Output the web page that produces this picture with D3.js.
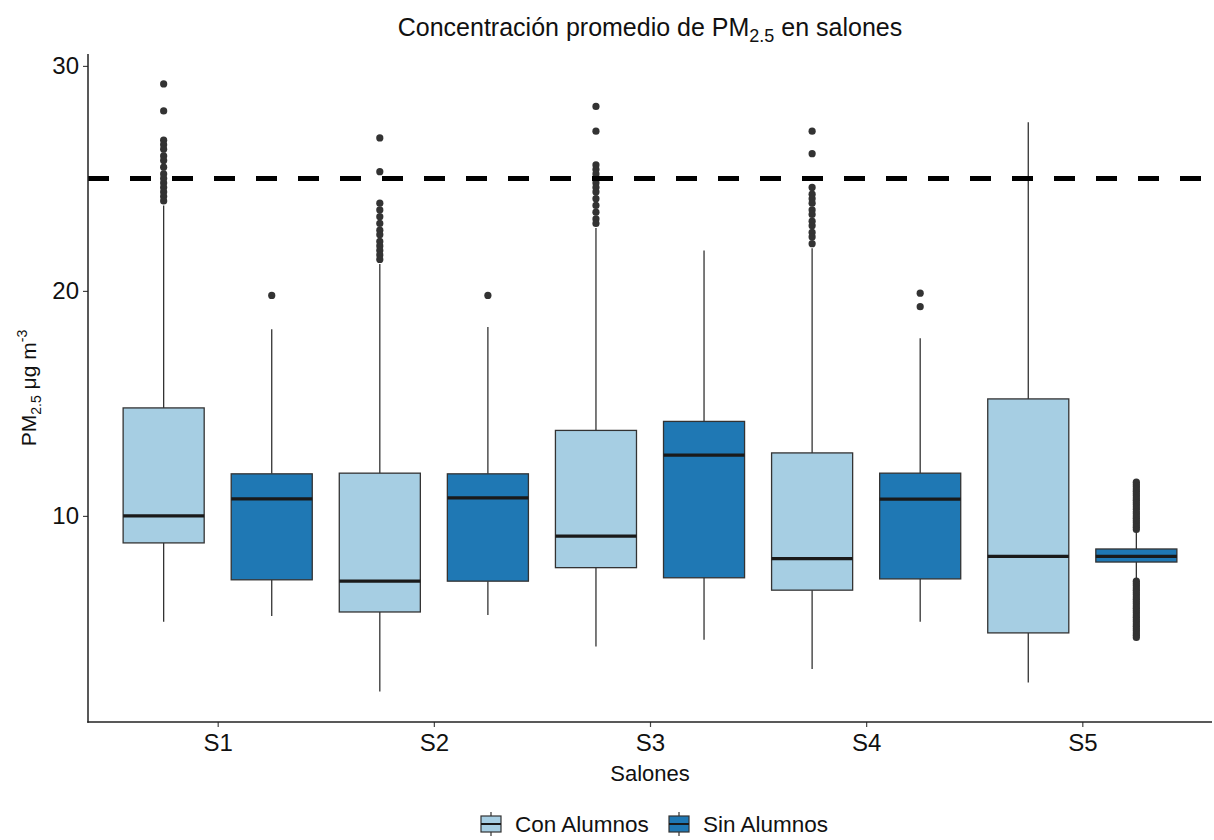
<!DOCTYPE html>
<html><head><meta charset="utf-8">
<script src="https://cdn.jsdelivr.net/npm/d3@7"></script>
<style>body{margin:0;background:#fff;} svg{display:block;font-family:"Liberation Sans",Arial,sans-serif;}</style>
</head><body><svg id="c" width="1214" height="840"></svg>
<script>
const salones = ["S1","S2","S3","S4","S5"];
const grupos = ["Con Alumnos","Sin Alumnos"];
const colores = ["#a6cee3","#1f78b4"];
const yTicks = [10,20,30];
const limite = 25;

// Con Alumnos
const conLo  = [5.3, 2.2, 4.2, 3.2, 2.6];
const conQ1  = [8.8, 5.73, 7.7, 6.7, 4.8];
const conMed = [10.0, 7.1, 9.1, 8.1, 8.2];
const conQ3  = [14.8, 11.9, 13.8, 12.8, 15.2];
const conHi  = [23.8, 21.2, 22.8, 21.9, 27.5];
const conOut = [
  [29.2,28.0,26.7,26.5,26.3,26.0,25.8,25.5,25.2,25.0,24.8,24.6,24.4,24.2,24.0],
  [26.8,25.3,23.9,23.6,23.3,23.0,22.7,22.5,22.2,22.0,21.8,21.6,21.4],
  [28.2,27.1,25.6,25.4,25.2,25.0,24.8,24.6,24.4,24.1,23.8,23.5,23.2,23.0],
  [27.1,26.1,24.6,24.3,24.1,23.9,23.6,23.4,23.1,22.9,22.6,22.4,22.1],
  []
];
// Sin Alumnos
const sinLo  = [5.55, 5.6, 4.5, 5.3, 7.2];
const sinQ1  = [7.16, 7.1, 7.25, 7.2, 7.95];
const sinMed = [10.76, 10.8, 12.7, 10.75, 8.2];
const sinQ3  = [11.87, 11.87, 14.2, 11.9, 8.53];
const sinHi  = [18.3, 18.4, 21.8, 17.9, 9.3];
const sinOut = [
  [19.8],
  [19.8],
  [],
  [19.9,19.3],
  [9.4,9.5,9.6,9.7,9.8,9.9,10.0,10.1,10.2,10.3,10.4,10.5,10.6,10.7,10.8,10.9,11.0,11.1,11.2,11.3,11.4,11.5,
   7.1,7.0,6.9,6.8,6.7,6.6,6.5,6.4,6.3,6.2,6.1,6.0,5.9,5.8,5.7,5.6,5.5,5.4,5.3,5.2,5.1,5.0,4.9,4.8,4.7,4.6]
];

const svg = d3.select("#c");
const L = 88, R = 1212, T = 54, B = 722;
const x = d3.scalePoint().domain(salones).range([L, R]).padding(0.6);
const step = x.step();
const y = d3.scaleLinear().domain([0.84, 30.53]).range([B, T]);
const off = d3.scalePoint().domain(grupos).range([-0.25*step, 0.25*step]);
const bw = 0.375*step;

const series = [
  {g: grupos[0], c: colores[0], lo: conLo, q1: conQ1, med: conMed, q3: conQ3, hi: conHi, out: conOut},
  {g: grupos[1], c: colores[1], lo: sinLo, q1: sinQ1, med: sinMed, q3: sinQ3, hi: sinHi, out: sinOut}
];

const plot = svg.append("g");
series.forEach(s => {
  salones.forEach((sal, i) => {
    const cx = x(sal) + off(s.g);
    const g = plot.append("g");
    g.append("line").attr("x1", cx).attr("x2", cx).attr("y1", y(s.hi[i])).attr("y2", y(s.q3[i]))
      .attr("stroke", "#333").attr("stroke-width", 1.3);
    g.append("line").attr("x1", cx).attr("x2", cx).attr("y1", y(s.q1[i])).attr("y2", y(s.lo[i]))
      .attr("stroke", "#333").attr("stroke-width", 1.3);
    g.append("rect").attr("x", cx - bw/2).attr("width", bw)
      .attr("y", y(s.q3[i])).attr("height", y(s.q1[i]) - y(s.q3[i]))
      .attr("fill", s.c).attr("stroke", "#333").attr("stroke-width", 1.3);
    g.append("line").attr("x1", cx - bw/2).attr("x2", cx + bw/2).attr("y1", y(s.med[i])).attr("y2", y(s.med[i]))
      .attr("stroke", "#1a1a1a").attr("stroke-width", 3.2);
    g.selectAll("circle").data(s.out[i]).enter().append("circle")
      .attr("cx", cx).attr("cy", d => y(d)).attr("r", 3.6).attr("fill", "#333");
  });
});

// reference line
svg.append("line").attr("x1", L).attr("x2", R).attr("y1", y(limite)).attr("y2", y(limite))
  .attr("stroke", "#000").attr("stroke-width", 5).attr("stroke-dasharray", "21,21");

// axes
const ya = svg.append("g").attr("transform", `translate(${L},0)`)
  .call(d3.axisLeft(y).tickValues(yTicks).tickSize(5).tickPadding(4));
ya.select(".domain").remove();
ya.selectAll(".tick line").attr("stroke", "#444").attr("stroke-width", 1.2);
ya.selectAll(".tick text").attr("font-size", 24).attr("fill", "#111").attr("font-family", "Liberation Sans, Arial, sans-serif");

const xa = svg.append("g").attr("transform", `translate(0,${B})`)
  .call(d3.axisBottom(x).tickSize(5).tickPadding(7));
xa.select(".domain").remove();
xa.selectAll(".tick line").attr("stroke", "#444").attr("stroke-width", 1.2);
xa.selectAll(".tick text").attr("font-size", 24).attr("fill", "#111").attr("font-family", "Liberation Sans, Arial, sans-serif");

svg.append("line").attr("x1", L).attr("x2", L).attr("y1", T).attr("y2", B + 0.7).attr("stroke", "#222").attr("stroke-width", 1.5);
svg.append("line").attr("x1", L - 0.7).attr("x2", R).attr("y1", B).attr("y2", B).attr("stroke", "#222").attr("stroke-width", 1.5);

// title
const t = svg.append("text").attr("x", (L + R)/2).attr("y", 36).attr("text-anchor", "middle")
  .attr("font-size", 25).attr("fill", "#111");
t.append("tspan").text("Concentración promedio de PM");
t.append("tspan").text("2.5").attr("font-size", 18).attr("dy", 6);
t.append("tspan").text(" en salones").attr("dy", -6);

// x title
svg.append("text").attr("x", (L + R)/2).attr("y", 781).attr("text-anchor", "middle")
  .attr("font-size", 22).attr("fill", "#111").text("Salones");

// y title
const yt = svg.append("text").attr("transform", `translate(36,${(T + B)/2}) rotate(-90)`)
  .attr("text-anchor", "middle").attr("font-size", 21).attr("fill", "#111");
yt.append("tspan").text("PM");
yt.append("tspan").text("2.5").attr("font-size", 14).attr("dy", 5);
yt.append("tspan").text(" μg m").attr("dy", -5);
yt.append("tspan").text("-3").attr("font-size", 14).attr("dy", -9);

// legend
const legX = [480, 668];
grupos.forEach((gname, i) => {
  const lg = svg.append("g").attr("transform", `translate(${legX[i]},812)`);
  lg.append("line").attr("x1", 11).attr("x2", 11).attr("y1", 0).attr("y2", 24).attr("stroke", "#333").attr("stroke-width", 1.2);
  lg.append("rect").attr("x", 1).attr("y", 4).attr("width", 20).attr("height", 16)
    .attr("fill", colores[i]).attr("stroke", "#333").attr("stroke-width", 1.2);
  lg.append("line").attr("x1", 1).attr("x2", 21).attr("y1", 12).attr("y2", 12).attr("stroke", "#1a1a1a").attr("stroke-width", 2);
  lg.append("text").attr("x", 35).attr("y", 20).attr("font-size", 22.5).attr("fill", "#111").text(gname);
});
</script></body></html>
